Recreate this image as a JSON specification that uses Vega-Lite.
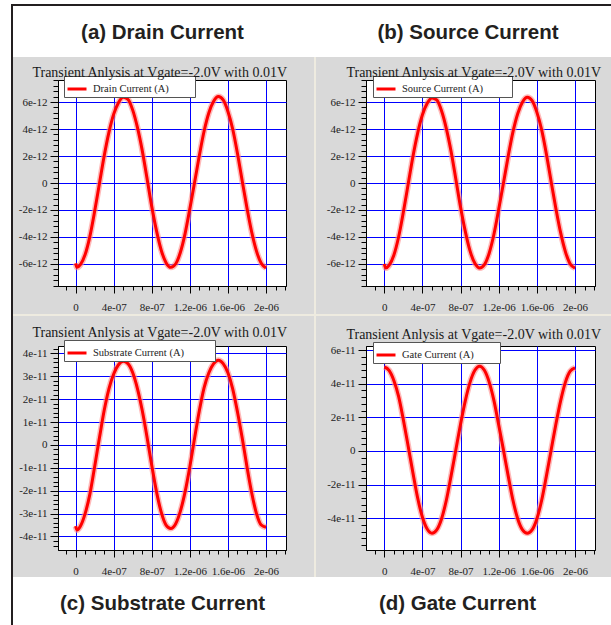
{
"$schema": "https://vega.github.io/schema/vega-lite/v6.json",
"background": "#d9d9d9",
"padding": 0,
"data": {"values": []},
"datasets": {
"drain": [{"t":0,"v":-5.95e-12},{"t":1.5e-8,"v":-6.25e-12},{"t":5e-8,"v":-6.05e-12},{"t":1e-7,"v":-5.3e-12},{"t":1.5e-7,"v":-3.95e-12},{"t":2e-7,"v":-2.1e-12},{"t":2.5e-7,"v":-5e-14},{"t":3e-7,"v":2e-12},{"t":3.5e-7,"v":3.75e-12},{"t":4e-7,"v":5.1e-12},{"t":4.5e-7,"v":5.95e-12},{"t":5e-7,"v":6.35e-12},{"t":5.5e-7,"v":6.2e-12},{"t":6e-7,"v":5.4e-12},{"t":6.5e-7,"v":4.1e-12},{"t":7e-7,"v":2.4e-12},{"t":7.5e-7,"v":3.5e-13},{"t":8e-7,"v":-1.75e-12},{"t":8.5e-7,"v":-3.55e-12},{"t":9e-7,"v":-5e-12},{"t":9.5e-7,"v":-5.9e-12},{"t":1e-6,"v":-6.25e-12},{"t":1.05e-6,"v":-6e-12},{"t":1.1e-6,"v":-5.15e-12},{"t":1.15e-6,"v":-3.75e-12},{"t":1.2e-6,"v":-1.9e-12},{"t":1.25e-6,"v":5e-14},{"t":1.3e-6,"v":2.05e-12},{"t":1.35e-6,"v":3.85e-12},{"t":1.4e-6,"v":5.2e-12},{"t":1.45e-6,"v":6.05e-12},{"t":1.5e-6,"v":6.4e-12},{"t":1.55e-6,"v":6.15e-12},{"t":1.6e-6,"v":5.3e-12},{"t":1.65e-6,"v":4e-12},{"t":1.7e-6,"v":2.2e-12},{"t":1.75e-6,"v":1.5e-13},{"t":1.8e-6,"v":-1.85e-12},{"t":1.85e-6,"v":-3.65e-12},{"t":1.9e-6,"v":-5.05e-12},{"t":1.95e-6,"v":-5.95e-12},{"t":2e-6,"v":-6.3e-12}],
"source": [{"t":0,"v":-6e-12},{"t":1.5e-8,"v":-6.3e-12},{"t":5e-8,"v":-6.1e-12},{"t":1e-7,"v":-5.35e-12},{"t":1.5e-7,"v":-4e-12},{"t":2e-7,"v":-2.15e-12},{"t":2.5e-7,"v":-1e-13},{"t":3e-7,"v":1.95e-12},{"t":3.5e-7,"v":3.7e-12},{"t":4e-7,"v":5.05e-12},{"t":4.5e-7,"v":5.9e-12},{"t":5e-7,"v":6.3e-12},{"t":5.5e-7,"v":6.15e-12},{"t":6e-7,"v":5.35e-12},{"t":6.5e-7,"v":4.05e-12},{"t":7e-7,"v":2.35e-12},{"t":7.5e-7,"v":3e-13},{"t":8e-7,"v":-1.8e-12},{"t":8.5e-7,"v":-3.6e-12},{"t":9e-7,"v":-5.05e-12},{"t":9.5e-7,"v":-5.95e-12},{"t":1e-6,"v":-6.3e-12},{"t":1.05e-6,"v":-6.05e-12},{"t":1.1e-6,"v":-5.2e-12},{"t":1.15e-6,"v":-3.8e-12},{"t":1.2e-6,"v":-1.95e-12},{"t":1.25e-6,"v":0},{"t":1.3e-6,"v":2e-12},{"t":1.35e-6,"v":3.8e-12},{"t":1.4e-6,"v":5.15e-12},{"t":1.45e-6,"v":6e-12},{"t":1.5e-6,"v":6.35e-12},{"t":1.55e-6,"v":6.1e-12},{"t":1.6e-6,"v":5.25e-12},{"t":1.65e-6,"v":3.95e-12},{"t":1.7e-6,"v":2.15e-12},{"t":1.75e-6,"v":1e-13},{"t":1.8e-6,"v":-1.9e-12},{"t":1.85e-6,"v":-3.7e-12},{"t":1.9e-6,"v":-5.1e-12},{"t":1.95e-6,"v":-6e-12},{"t":2e-6,"v":-6.3e-12}],
"substrate": [{"t":0,"v":-3.55e-11},{"t":1.5e-8,"v":-3.72e-11},{"t":5e-8,"v":-3.55e-11},{"t":1e-7,"v":-3e-11},{"t":1.5e-7,"v":-2.15e-11},{"t":2e-7,"v":-9.5e-12},{"t":2.5e-7,"v":3e-12},{"t":3e-7,"v":1.5e-11},{"t":3.5e-7,"v":2.45e-11},{"t":4e-7,"v":3.1e-11},{"t":4.5e-7,"v":3.5e-11},{"t":5e-7,"v":3.65e-11},{"t":5.5e-7,"v":3.55e-11},{"t":6e-7,"v":3.15e-11},{"t":6.5e-7,"v":2.45e-11},{"t":7e-7,"v":1.5e-11},{"t":7.5e-7,"v":3.5e-12},{"t":8e-7,"v":-9e-12},{"t":8.5e-7,"v":-2.05e-11},{"t":9e-7,"v":-2.95e-11},{"t":9.5e-7,"v":-3.5e-11},{"t":1e-6,"v":-3.65e-11},{"t":1.05e-6,"v":-3.45e-11},{"t":1.1e-6,"v":-2.9e-11},{"t":1.15e-6,"v":-2.05e-11},{"t":1.2e-6,"v":-9.5e-12},{"t":1.25e-6,"v":3e-12},{"t":1.3e-6,"v":1.5e-11},{"t":1.35e-6,"v":2.5e-11},{"t":1.4e-6,"v":3.15e-11},{"t":1.45e-6,"v":3.55e-11},{"t":1.5e-6,"v":3.7e-11},{"t":1.55e-6,"v":3.55e-11},{"t":1.6e-6,"v":3.15e-11},{"t":1.65e-6,"v":2.45e-11},{"t":1.7e-6,"v":1.45e-11},{"t":1.75e-6,"v":3e-12},{"t":1.8e-6,"v":-9.5e-12},{"t":1.85e-6,"v":-2.1e-11},{"t":1.9e-6,"v":-3e-11},{"t":1.95e-6,"v":-3.5e-11},{"t":2e-6,"v":-3.6e-11}],
"gate": [{"t":0,"v":5e-11},{"t":5e-8,"v":4.8e-11},{"t":1e-7,"v":4.2e-11},{"t":1.5e-7,"v":3.25e-11},{"t":2e-7,"v":1.85e-11},{"t":2.5e-7,"v":3e-12},{"t":3e-7,"v":-1.3e-11},{"t":3.5e-7,"v":-2.8e-11},{"t":4e-7,"v":-3.95e-11},{"t":4.5e-7,"v":-4.65e-11},{"t":5e-7,"v":-4.9e-11},{"t":5.5e-7,"v":-4.7e-11},{"t":6e-7,"v":-4.05e-11},{"t":6.5e-7,"v":-2.95e-11},{"t":7e-7,"v":-1.5e-11},{"t":7.5e-7,"v":5e-13},{"t":8e-7,"v":1.6e-11},{"t":8.5e-7,"v":3e-11},{"t":9e-7,"v":4.1e-11},{"t":9.5e-7,"v":4.8e-11},{"t":1e-6,"v":5.05e-11},{"t":1.05e-6,"v":4.8e-11},{"t":1.1e-6,"v":4.1e-11},{"t":1.15e-6,"v":3e-11},{"t":1.2e-6,"v":1.55e-11},{"t":1.25e-6,"v":5e-13},{"t":1.3e-6,"v":-1.5e-11},{"t":1.35e-6,"v":-2.95e-11},{"t":1.4e-6,"v":-4.05e-11},{"t":1.45e-6,"v":-4.7e-11},{"t":1.5e-6,"v":-4.9e-11},{"t":1.55e-6,"v":-4.7e-11},{"t":1.6e-6,"v":-4.05e-11},{"t":1.65e-6,"v":-2.95e-11},{"t":1.7e-6,"v":-1.5e-11},{"t":1.75e-6,"v":5e-13},{"t":1.8e-6,"v":1.6e-11},{"t":1.85e-6,"v":3e-11},{"t":1.9e-6,"v":4.1e-11},{"t":1.95e-6,"v":4.75e-11},{"t":2e-6,"v":4.95e-11}]
},
"columns": 9,
"spacing": 0,
"bounds": "flush",
"align": "each",
"resolve": {"scale": {"x": "independent", "y": "independent", "color": "independent"}, "axis": {"x": "independent", "y": "independent"}, "legend": {"color": "independent"}},
"concat": [
{"width":11,"height":4,"mark":"point","view":{"fill":"#ffffff"}},
{"width":2,"height":4,"mark":"point","view":{"fill":"#ffffff"}},
{"width":45,"height":4,"mark":"point","view":{"fill":"#ffffff"}},
{"width":228,"height":4,"mark":"point","view":{"fill":"#ffffff"}},
{"width":28,"height":4,"mark":"point","view":{"fill":"#ffffff"}},
{"width":2,"height":4,"mark":"point","view":{"fill":"#ffffff"}},
{"width":50,"height":4,"mark":"point","view":{"fill":"#ffffff"}},
{"width":229,"height":4,"mark":"point","view":{"fill":"#ffffff"}},
{"width":16,"height":4,"mark":"point","view":{"fill":"#ffffff"}},

{"width":11,"height":2,"mark":"point","view":{"fill":"#ffffff"}},
{"width":2,"height":2,"mark":"point","view":{"fill":"#231f20"}},
{"width":45,"height":2,"mark":"point","view":{"fill":"#231f20"}},
{"width":228,"height":2,"mark":"point","view":{"fill":"#231f20"}},
{"width":28,"height":2,"mark":"point","view":{"fill":"#231f20"}},
{"width":2,"height":2,"mark":"point","view":{"fill":"#231f20"}},
{"width":50,"height":2,"mark":"point","view":{"fill":"#231f20"}},
{"width":229,"height":2,"mark":"point","view":{"fill":"#231f20"}},
{"width":16,"height":2,"mark":"point","view":{"fill":"#231f20"}},

{"width":11,"height":51,"mark":"point","view":{"fill":"#ffffff"}},
{"width":2,"height":51,"mark":"point","view":{"fill":"#231f20"}},
{"width":45,"height":51,"mark":"point","view":{"fill":"#ffffff"}},
{"width":228,"height":51,"view":{"fill":"#ffffff"},"data":{"values":[{"label":"(a) Drain Current"}]},"mark":{"type":"text","font":"Liberation Sans","fontSize":20.5,"fontWeight":"bold","color":"#231f20","dx":-9.5,"dy":1.5},"encoding":{"text":{"field":"label","type":"nominal"}}},
{"width":28,"height":51,"mark":"point","view":{"fill":"#ffffff"}},
{"width":2,"height":51,"mark":"point","view":{"fill":"#ffffff"}},
{"width":50,"height":51,"mark":"point","view":{"fill":"#ffffff"}},
{"width":229,"height":51,"view":{"fill":"#ffffff"},"data":{"values":[{"label":"(b) Source Current"}]},"mark":{"type":"text","font":"Liberation Sans","fontSize":20.5,"fontWeight":"bold","color":"#231f20","dx":-12.5,"dy":1.5},"encoding":{"text":{"field":"label","type":"nominal"}}},
{"width":16,"height":51,"mark":"point","view":{"fill":"#ffffff"}},

{"width":11,"height":23,"mark":"point","view":{"fill":"#ffffff"}},
{"width":2,"height":23,"mark":"point","view":{"fill":"#231f20"}},
{"width":45,"height":23,"mark":"point"},
{"width":228,"height":23,"mark":"point"},
{"width":28,"height":23,"mark":"point"},
{"width":2,"height":23,"mark":"point","view":{"fill":"#eeebe0"}},
{"width":50,"height":23,"mark":"point"},
{"width":229,"height":23,"mark":"point"},
{"width":16,"height":23,"mark":"point"},

{"width":11,"height":206,"mark":"point","view":{"fill":"#ffffff"}},
{"width":2,"height":206,"mark":"point","view":{"fill":"#231f20"}},
{"width":45,"height":206,"mark":"point"},
{
 "width": 228, "height": 206,
 "data": {"name": "drain"},
 "view": {"fill": "#ffffff", "stroke": "#000000", "strokeWidth": 1},
 "title": {"text": "Transient Anlysis at Vgate=-2.0V with 0.01V", "anchor": "end", "frame": "group", "dx": 1, "dy": 20, "offset": 3, "baseline": "alphabetic"},
 "encoding": {
  "x": {"field": "t", "type": "quantitative", "scale": {"domain": [-1.85e-7, 2.21e-6], "nice": false, "zero": false},
   "axis": {"title": null, "values": [-1e-7,0,1e-7,2e-7,3e-7,4e-7,5e-7,6e-7,7e-7,8e-7,9e-7,1e-6,1.1e-6,1.2e-6,1.3e-6,1.4e-6,1.5e-6,1.6e-6,1.7e-6,1.8e-6,1.9e-6,2e-6,2.1e-6,2.2e-6],
    "labelExpr": "abs(round(datum.value*1e7)) % 4 != 0 ? '' : datum.value == 0 ? '0' : replace(format(datum.value, '~e'), 'e-', 'e-0')",
    "tickSize": {"condition": {"test": "abs(round(datum.value*1e7)) % 4 == 0", "value": 7}, "value": 4},
    "gridOpacity": {"condition": {"test": "abs(round(datum.value*1e7)) % 4 == 0", "value": 1}, "value": 0},
    "labelPadding": 8}},
  "y": {"field": "v", "type": "quantitative", "scale": {"domain": [-7.63e-12, 7.63e-12], "nice": false, "zero": false},
   "axis": {"title": null, "values": [-7.6e-12,-7.2e-12,-6.8e-12,-6.4e-12,-6e-12,-5.6e-12,-5.2e-12,-4.8e-12,-4.4e-12,-4e-12,-3.6e-12,-3.2e-12,-2.8e-12,-2.4e-12,-2e-12,-1.6e-12,-1.2e-12,-8e-13,-4e-13,0,4e-13,8e-13,1.2e-12,1.6e-12,2e-12,2.4e-12,2.8e-12,3.2e-12,3.6e-12,4e-12,4.4e-12,4.8e-12,5.2e-12,5.6e-12,6e-12,6.4e-12,6.8e-12,7.2e-12,7.6e-12],
    "labelExpr": "abs(round(datum.value*2.5e12)) % 5 != 0 ? '' : datum.value == 0 ? '0' : (datum.value < 0 ? '-' : '') + format(abs(datum.value), '~e')",
    "tickSize": {"condition": {"test": "abs(round(datum.value*2.5e12)) % 5 == 0", "value": 8}, "value": 5},
    "gridOpacity": {"condition": {"test": "abs(round(datum.value*2.5e12)) % 5 == 0", "value": 1}, "value": 0},
    "labelPadding": 3}}
 },
 "layer": [
  {"mark": {"type": "line", "strokeWidth": 6, "color": "#ff8a8a", "opacity": 0.6, "interpolate": "monotone"}},
  {"mark": {"type": "line", "strokeWidth": 3, "interpolate": "monotone"},
   "encoding": {"color": {"datum": "Drain Current (A)", "type": "nominal", "scale": {"range": ["#ff0000"]},
    "legend": {"title": null, "orient": "none", "legendX": 6, "legendY": -4, "labelExpr": "datum.label + '\u00a0\u00a0\u00a0\u00a0\u00a0\u00a0\u00a0\u00a0\u00a0\u200b'"}}}}
 ]
},
{"width":28,"height":206,"mark":"point"},
{"width":2,"height":206,"mark":"point","view":{"fill":"#eeebe0"}},
{"width":50,"height":206,"mark":"point"},
{
 "width": 229, "height": 206,
 "data": {"name": "source"},
 "view": {"fill": "#ffffff", "stroke": "#000000", "strokeWidth": 1},
 "title": {"text": "Transient Anlysis at Vgate=-2.0V with 0.01V", "anchor": "end", "frame": "group", "dx": 6, "dy": 20, "offset": 3, "baseline": "alphabetic"},
 "encoding": {
  "x": {"field": "t", "type": "quantitative", "scale": {"domain": [-1.92e-7, 2.21e-6], "nice": false, "zero": false},
   "axis": {"title": null, "values": [-1e-7,0,1e-7,2e-7,3e-7,4e-7,5e-7,6e-7,7e-7,8e-7,9e-7,1e-6,1.1e-6,1.2e-6,1.3e-6,1.4e-6,1.5e-6,1.6e-6,1.7e-6,1.8e-6,1.9e-6,2e-6,2.1e-6,2.2e-6],
    "labelExpr": "abs(round(datum.value*1e7)) % 4 != 0 ? '' : datum.value == 0 ? '0' : replace(format(datum.value, '~e'), 'e-', 'e-0')",
    "tickSize": {"condition": {"test": "abs(round(datum.value*1e7)) % 4 == 0", "value": 7}, "value": 4},
    "gridOpacity": {"condition": {"test": "abs(round(datum.value*1e7)) % 4 == 0", "value": 1}, "value": 0},
    "labelPadding": 8}},
  "y": {"field": "v", "type": "quantitative", "scale": {"domain": [-7.63e-12, 7.63e-12], "nice": false, "zero": false},
   "axis": {"title": null, "values": [-7.6e-12,-7.2e-12,-6.8e-12,-6.4e-12,-6e-12,-5.6e-12,-5.2e-12,-4.8e-12,-4.4e-12,-4e-12,-3.6e-12,-3.2e-12,-2.8e-12,-2.4e-12,-2e-12,-1.6e-12,-1.2e-12,-8e-13,-4e-13,0,4e-13,8e-13,1.2e-12,1.6e-12,2e-12,2.4e-12,2.8e-12,3.2e-12,3.6e-12,4e-12,4.4e-12,4.8e-12,5.2e-12,5.6e-12,6e-12,6.4e-12,6.8e-12,7.2e-12,7.6e-12],
    "labelExpr": "abs(round(datum.value*2.5e12)) % 5 != 0 ? '' : datum.value == 0 ? '0' : (datum.value < 0 ? '-' : '') + format(abs(datum.value), '~e')",
    "tickSize": {"condition": {"test": "abs(round(datum.value*2.5e12)) % 5 == 0", "value": 8}, "value": 5},
    "gridOpacity": {"condition": {"test": "abs(round(datum.value*2.5e12)) % 5 == 0", "value": 1}, "value": 0},
    "labelPadding": 3}}
 },
 "layer": [
  {"mark": {"type": "line", "strokeWidth": 6, "color": "#ff8a8a", "opacity": 0.6, "interpolate": "monotone"}},
  {"mark": {"type": "line", "strokeWidth": 3, "interpolate": "monotone"},
   "encoding": {"color": {"datum": "Source Current (A)", "type": "nominal", "scale": {"range": ["#ff0000"]},
    "legend": {"title": null, "orient": "none", "legendX": 7, "legendY": -4, "labelExpr": "datum.label + '\u00a0\u00a0\u00a0\u00a0\u00a0\u00a0\u00a0\u00a0\u00a0\u00a0\u200b'"}}}}
 ]
},
{"width":16,"height":206,"mark":"point"},

{"width":11,"height":28,"mark":"point","view":{"fill":"#ffffff"}},
{"width":2,"height":28,"mark":"point","view":{"fill":"#231f20"}},
{"width":45,"height":28,"mark":"point"},
{"width":228,"height":28,"mark":"point"},
{"width":28,"height":28,"mark":"point"},
{"width":2,"height":28,"mark":"point","view":{"fill":"#eeebe0"}},
{"width":50,"height":28,"mark":"point"},
{"width":229,"height":28,"mark":"point"},
{"width":16,"height":28,"mark":"point"},

{"width":11,"height":2,"mark":"point","view":{"fill":"#ffffff"}},
{"width":2,"height":2,"mark":"point","view":{"fill":"#231f20"}},
{"width":45,"height":2,"mark":"point","view":{"fill":"#eeebe0"}},
{"width":228,"height":2,"mark":"point","view":{"fill":"#eeebe0"}},
{"width":28,"height":2,"mark":"point","view":{"fill":"#eeebe0"}},
{"width":2,"height":2,"mark":"point","view":{"fill":"#eeebe0"}},
{"width":50,"height":2,"mark":"point","view":{"fill":"#eeebe0"}},
{"width":229,"height":2,"mark":"point","view":{"fill":"#eeebe0"}},
{"width":16,"height":2,"mark":"point","view":{"fill":"#eeebe0"}},

{"width":11,"height":30,"mark":"point","view":{"fill":"#ffffff"}},
{"width":2,"height":30,"mark":"point","view":{"fill":"#231f20"}},
{"width":45,"height":30,"mark":"point"},
{"width":228,"height":30,"mark":"point"},
{"width":28,"height":30,"mark":"point"},
{"width":2,"height":30,"mark":"point","view":{"fill":"#eeebe0"}},
{"width":50,"height":30,"mark":"point"},
{"width":229,"height":30,"mark":"point"},
{"width":16,"height":30,"mark":"point"},

{"width":11,"height":204,"mark":"point","view":{"fill":"#ffffff"}},
{"width":2,"height":204,"mark":"point","view":{"fill":"#231f20"}},
{"width":45,"height":204,"mark":"point"},
{
 "width": 228, "height": 204,
 "data": {"name": "substrate"},
 "view": {"fill": "#ffffff", "stroke": "#000000", "strokeWidth": 1},
 "title": {"text": "Transient Anlysis at Vgate=-2.0V with 0.01V", "anchor": "end", "frame": "group", "dx": 1, "dy": 14, "offset": 3, "baseline": "alphabetic"},
 "encoding": {
  "x": {"field": "t", "type": "quantitative", "scale": {"domain": [-1.85e-7, 2.21e-6], "nice": false, "zero": false},
   "axis": {"title": null, "values": [-1e-7,0,1e-7,2e-7,3e-7,4e-7,5e-7,6e-7,7e-7,8e-7,9e-7,1e-6,1.1e-6,1.2e-6,1.3e-6,1.4e-6,1.5e-6,1.6e-6,1.7e-6,1.8e-6,1.9e-6,2e-6,2.1e-6,2.2e-6],
    "labelExpr": "abs(round(datum.value*1e7)) % 4 != 0 ? '' : datum.value == 0 ? '0' : replace(format(datum.value, '~e'), 'e-', 'e-0')",
    "tickSize": {"condition": {"test": "abs(round(datum.value*1e7)) % 4 == 0", "value": 7}, "value": 4},
    "gridOpacity": {"condition": {"test": "abs(round(datum.value*1e7)) % 4 == 0", "value": 1}, "value": 0},
    "labelPadding": 8}},
  "y": {"field": "v", "type": "quantitative", "scale": {"domain": [-4.59e-11, 4.32e-11], "nice": false, "zero": false},
   "axis": {"title": null, "values": [-4.4e-11,-4.2e-11,-4e-11,-3.8e-11,-3.6e-11,-3.4e-11,-3.2e-11,-3e-11,-2.8e-11,-2.6e-11,-2.4e-11,-2.2e-11,-2e-11,-1.8e-11,-1.6e-11,-1.4e-11,-1.2e-11,-1e-11,-8e-12,-6e-12,-4e-12,-2e-12,0,2e-12,4e-12,6e-12,8e-12,1e-11,1.2e-11,1.4e-11,1.6e-11,1.8e-11,2e-11,2.2e-11,2.4e-11,2.6e-11,2.8e-11,3e-11,3.2e-11,3.4e-11,3.6e-11,3.8e-11,4e-11,4.2e-11],
    "labelExpr": "abs(round(datum.value*5e11)) % 5 != 0 ? '' : datum.value == 0 ? '0' : (datum.value < 0 ? '-' : '') + format(abs(datum.value), '~e')",
    "tickSize": {"condition": {"test": "abs(round(datum.value*5e11)) % 5 == 0", "value": 8}, "value": 5},
    "gridOpacity": {"condition": {"test": "abs(round(datum.value*5e11)) % 5 == 0", "value": 1}, "value": 0},
    "labelPadding": 3}}
 },
 "layer": [
  {"mark": {"type": "line", "strokeWidth": 6, "color": "#ff8a8a", "opacity": 0.6, "interpolate": "monotone"}},
  {"mark": {"type": "line", "strokeWidth": 3, "interpolate": "monotone"},
   "encoding": {"color": {"datum": "Substrate Current (A)", "type": "nominal", "scale": {"range": ["#ff0000"]},
    "legend": {"title": null, "orient": "none", "legendX": 6, "legendY": -6, "labelExpr": "datum.label + '\u00a0\u00a0\u00a0\u00a0\u00a0\u00a0\u00a0\u00a0\u00a0\u00a0\u00a0\u200b'"}}}}
 ]
},
{"width":28,"height":204,"mark":"point"},
{"width":2,"height":204,"mark":"point","view":{"fill":"#eeebe0"}},
{"width":50,"height":204,"mark":"point"},
{
 "width": 229, "height": 204,
 "data": {"name": "gate"},
 "view": {"fill": "#ffffff", "stroke": "#000000", "strokeWidth": 1},
 "title": {"text": "Transient Anlysis at Vgate=-2.0V with 0.01V", "anchor": "end", "frame": "group", "dx": 6, "dy": 14, "offset": 3, "baseline": "alphabetic"},
 "encoding": {
  "x": {"field": "t", "type": "quantitative", "scale": {"domain": [-1.92e-7, 2.21e-6], "nice": false, "zero": false},
   "axis": {"title": null, "values": [-1e-7,0,1e-7,2e-7,3e-7,4e-7,5e-7,6e-7,7e-7,8e-7,9e-7,1e-6,1.1e-6,1.2e-6,1.3e-6,1.4e-6,1.5e-6,1.6e-6,1.7e-6,1.8e-6,1.9e-6,2e-6,2.1e-6,2.2e-6],
    "labelExpr": "abs(round(datum.value*1e7)) % 4 != 0 ? '' : datum.value == 0 ? '0' : replace(format(datum.value, '~e'), 'e-', 'e-0')",
    "tickSize": {"condition": {"test": "abs(round(datum.value*1e7)) % 4 == 0", "value": 7}, "value": 4},
    "gridOpacity": {"condition": {"test": "abs(round(datum.value*1e7)) % 4 == 0", "value": 1}, "value": 0},
    "labelPadding": 8}},
  "y": {"field": "v", "type": "quantitative", "scale": {"domain": [-5.9e-11, 6.25e-11], "nice": false, "zero": false},
   "axis": {"title": null, "values": [-5.6e-11,-5.2e-11,-4.8e-11,-4.4e-11,-4e-11,-3.6e-11,-3.2e-11,-2.8e-11,-2.4e-11,-2e-11,-1.6e-11,-1.2e-11,-8e-12,-4e-12,0,4e-12,8e-12,1.2e-11,1.6e-11,2e-11,2.4e-11,2.8e-11,3.2e-11,3.6e-11,4e-11,4.4e-11,4.8e-11,5.2e-11,5.6e-11,6e-11],
    "labelExpr": "abs(round(datum.value*2.5e11)) % 5 != 0 ? '' : datum.value == 0 ? '0' : (datum.value < 0 ? '-' : '') + format(abs(datum.value), '~e')",
    "tickSize": {"condition": {"test": "abs(round(datum.value*2.5e11)) % 5 == 0", "value": 8}, "value": 5},
    "gridOpacity": {"condition": {"test": "abs(round(datum.value*2.5e11)) % 5 == 0", "value": 1}, "value": 0},
    "labelPadding": 3}}
 },
 "layer": [
  {"mark": {"type": "line", "strokeWidth": 6, "color": "#ff8a8a", "opacity": 0.6, "interpolate": "monotone"}},
  {"mark": {"type": "line", "strokeWidth": 3, "interpolate": "monotone"},
   "encoding": {"color": {"datum": "Gate Current (A)", "type": "nominal", "scale": {"range": ["#ff0000"]},
    "legend": {"title": null, "orient": "none", "legendX": 7, "legendY": -4, "labelExpr": "datum.label + '\u00a0\u00a0\u00a0\u00a0\u00a0\u00a0\u00a0\u00a0\u00a0\u200b'"}}}}
 ]
},
{"width":16,"height":204,"mark":"point"},

{"width":11,"height":27,"mark":"point","view":{"fill":"#ffffff"}},
{"width":2,"height":27,"mark":"point","view":{"fill":"#231f20"}},
{"width":45,"height":27,"mark":"point"},
{"width":228,"height":27,"mark":"point"},
{"width":28,"height":27,"mark":"point"},
{"width":2,"height":27,"mark":"point","view":{"fill":"#eeebe0"}},
{"width":50,"height":27,"mark":"point"},
{"width":229,"height":27,"mark":"point"},
{"width":16,"height":27,"mark":"point"},

{"width":11,"height":48,"mark":"point","view":{"fill":"#ffffff"}},
{"width":2,"height":48,"mark":"point","view":{"fill":"#231f20"}},
{"width":45,"height":48,"mark":"point","view":{"fill":"#ffffff"}},
{"width":228,"height":48,"view":{"fill":"#ffffff"},"data":{"values":[{"label":"(c) Substrate Current"}]},"mark":{"type":"text","font":"Liberation Sans","fontSize":20.5,"fontWeight":"bold","color":"#231f20","dx":-9.5,"dy":3},"encoding":{"text":{"field":"label","type":"nominal"}}},
{"width":28,"height":48,"mark":"point","view":{"fill":"#ffffff"}},
{"width":2,"height":48,"mark":"point","view":{"fill":"#ffffff"}},
{"width":50,"height":48,"mark":"point","view":{"fill":"#ffffff"}},
{"width":229,"height":48,"view":{"fill":"#ffffff"},"data":{"values":[{"label":"(d) Gate Current"}]},"mark":{"type":"text","font":"Liberation Sans","fontSize":20.5,"fontWeight":"bold","color":"#231f20","dx":-23,"dy":3},"encoding":{"text":{"field":"label","type":"nominal"}}},
{"width":16,"height":48,"mark":"point","view":{"fill":"#ffffff"}}
],
"config": {
 "view": {"stroke": null},
 "title": {"font": "Liberation Serif", "fontSize": 14, "fontWeight": "normal", "color": "#1a1a1a"},
 "axis": {"labelFont": "Liberation Serif", "labelFontSize": 11, "labelColor": "#222222", "domainColor": "#000000", "tickColor": "#000000", "gridColor": "#0000ff", "gridWidth": 1, "grid": true, "labelOverlap": false, "labelFlush": false, "labelBound": false},
 "legend": {"symbolType": "stroke", "symbolStrokeWidth": 3, "symbolSize": 361, "fillColor": "#ffffff", "strokeColor": "#555555", "padding": 2, "labelFont": "Liberation Serif", "labelFontSize": 10.5, "labelColor": "#222222", "labelOffset": 5}
}
}
